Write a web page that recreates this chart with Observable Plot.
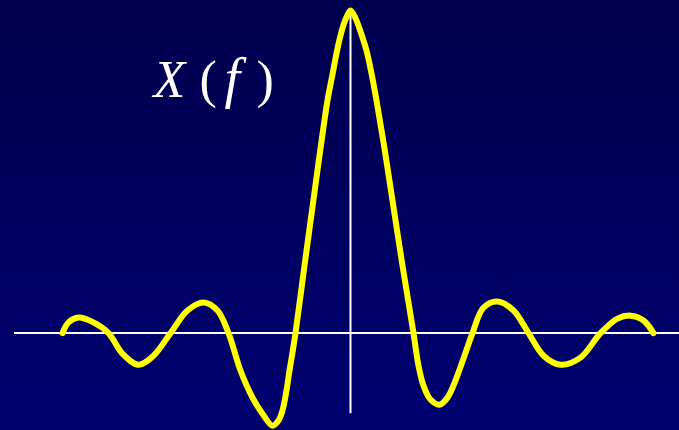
<!DOCTYPE html>
<html>
<head>
<meta charset="utf-8">
<script src="https://cdn.jsdelivr.net/npm/d3@7"></script>
<script src="https://cdn.jsdelivr.net/npm/@observablehq/plot@0.6"></script>
<style>
  html, body { margin: 0; padding: 0; }
  body { width: 679px; height: 430px; overflow: hidden; background: #00005a; }
  #chart svg { display: block; }
</style>
</head>
<body>
<div id="chart"></div>
<script>
// Spectrum X(f): frequency samples and amplitude (peak normalised to 1)
const freq = [
  -2.88, -2.82, -2.72, -2.57, -2.42, -2.28, -2.12, -1.97, -1.80, -1.63,
  -1.47, -1.33, -1.22, -1.10, -0.98, -0.88, -0.78, -0.72, -0.68, -0.64,
  -0.61, -0.58, -0.55, -0.46, -0.37, -0.30, -0.23, -0.18, -0.13, -0.09,
  -0.05, 0.00, 0.05, 0.10, 0.16, 0.21, 0.26, 0.34, 0.42, 0.52,
  0.58, 0.63, 0.68, 0.73, 0.80, 0.89, 0.97, 1.05, 1.13, 1.22,
  1.33, 1.47, 1.63, 1.78, 1.93, 2.10, 2.30, 2.50, 2.67, 2.80,
  2.93, 3.03
];
const amp = [
  0.000, 0.033, 0.048, 0.033, 0.000, -0.064, -0.098, -0.070, 0.000, 0.070,
  0.095, 0.070, 0.000, -0.116, -0.200, -0.250, -0.287, -0.271, -0.240, -0.178,
  -0.116, -0.060, 0.000, 0.209, 0.414, 0.572, 0.721, 0.802, 0.882, 0.934,
  0.972, 1.000, 0.976, 0.935, 0.876, 0.805, 0.721, 0.572, 0.411, 0.209,
  0.095, 0.000, -0.101, -0.163, -0.206, -0.222, -0.200, -0.147, -0.079, 0.000,
  0.079, 0.098, 0.070, 0.000, -0.070, -0.098, -0.076, 0.000, 0.045, 0.054,
  0.039, 0.000
];

// Axis extents
const fAxis = [-3.36, 3.29];
const ampAxis = [-0.25, 1.0];

// Label pieces: math-style X(f)
const labelParts = ["X", "(", "f", ")"];
const labelItalic = [true, false, true, false];
const labelOffset = [153, 199, 224, 256];

const data = freq.map((f, i) => ({f, a: amp[i]}));

const W = 679, H = 430;

const labelMarks = labelParts.map((t, i) =>
  Plot.text([t], {
    frameAnchor: "top-left",
    text: d => d,
    dx: labelOffset[i],
    dy: 96,
    textAnchor: "start",
    lineAnchor: "bottom",
    fill: "white",
    fontSize: i === 2 ? 56 : 52,
    fontFamily: "Liberation Serif, Times New Roman, serif",
    fontStyle: labelItalic[i] ? "italic" : "normal"
  })
);

const chart = Plot.plot({
  width: W,
  height: H,
  margin: 0,
  x: {domain: [-3.5, 3.29], axis: null},
  y: {domain: [-0.302, 1.031], axis: null},
  style: {
    background: "linear-gradient(to bottom, #00004e 0%, #000070 100%)",
    overflow: "visible"
  },
  marks: [
    Plot.ruleY([0], {x1: fAxis[0], x2: fAxis[1], stroke: "white", strokeWidth: 2}),
    Plot.ruleX([0], {y1: ampAxis[0], y2: ampAxis[1], stroke: "white", strokeWidth: 2}),
    Plot.line(data, {
      x: "f", y: "a",
      stroke: "#ffff00",
      strokeWidth: 6,
      curve: "catmull-rom",
      strokeLinejoin: "round"
    }),
    ...labelMarks
  ]
});

document.getElementById("chart").appendChild(chart);
</script>
</body>
</html>
